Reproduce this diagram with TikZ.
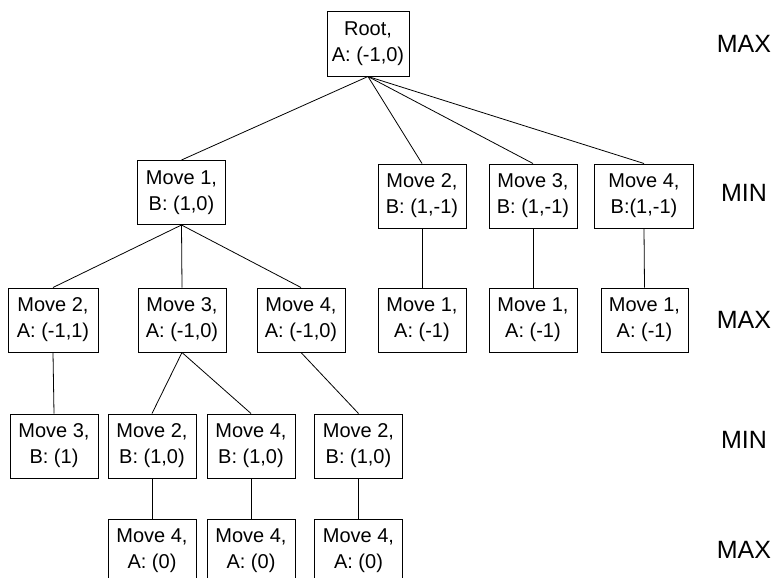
\documentclass[tikz,border=0pt]{standalone}
\usepackage{fontspec}
\setmainfont{Liberation Sans}

\begin{document}
\begin{tikzpicture}[x=1bp,y=-1bp,
	mv/.style={draw,line width=1pt,minimum width=88bp,minimum height=64bp,inner sep=0pt,align=center,font=\fontsize{20bp}{26bp}\selectfont},
	edge/.style={line width=0.8pt},
	lvl/.style={font=\fontsize{25bp}{30bp}\selectfont}]
			%%%%% START %%%%%
			
			\useasboundingbox (0,0) rectangle (776,578);
			\clip (0,0) rectangle (776,578);
			
			\node[mv,minimum width=82bp] (root) at (368,44) {Root,\\A: (-1,0)};
			
			\node[mv] (b1) at (181.5,192.5) {Move 1,\\B: (1,0)};
			\node[mv] (b2) at (422,196) {Move 2,\\B: (1,-1)};
			\node[mv] (b3) at (533,196) {Move 3,\\B: (1,-1)};
			\node[mv,minimum width=99bp] (b4) at (644,196) {Move 4,\\B:(1,-1)};
			
			\node[mv,minimum width=90bp] (a12) at (53,320) {Move 2,\\A: (-1,1)};
			\node[mv] (a13) at (182,320) {Move 3,\\A: (-1,0)};
			\node[mv] (a14) at (301,320) {Move 4,\\A: (-1,0)};
			\node[mv] (a21) at (422,320) {Move 1,\\A: (-1)};
			\node[mv] (a31) at (533,320) {Move 1,\\A: (-1)};
			\node[mv,minimum width=87bp] (a41) at (644.5,320) {Move 1,\\A: (-1)};
			
			\node[mv] (b123) at (54,446) {Move 3,\\B: (1)};
			\node[mv] (b132) at (152,446) {Move 2,\\B: (1,0)};
			\node[mv] (b134) at (251,446) {Move 4,\\B: (1,0)};
			\node[mv] (b142) at (358.5,446) {Move 2,\\B: (1,0)};
			
			\node[mv] (a1324) at (152,551) {Move 4,\\A: (0)};
			\node[mv] (a1344) at (251,551) {Move 4,\\A: (0)};
			\node[mv] (a1424) at (358.5,551) {Move 4,\\A: (0)};
			
			\foreach \p/\c in {root/b1,root/b2,root/b3,root/b4,
				b1/a12,b1/a13,b1/a14,b2/a21,b3/a31,b4/a41,
				a12/b123,a13/b132,a13/b134,a14/b142,
				b132/a1324,b134/a1344,b142/a1424}
				\draw[edge] (\p.south) -- (\c.north);
			
			\node[lvl] (l0) at (744,44) {MAX};
			\node[lvl] (l1) at (744,193) {MIN};
			\node[lvl] (l2) at (744,320) {MAX};
			\node[lvl] (l3) at (744,440) {MIN};
			\node[lvl] (l4) at (744,550) {MAX};
			
			%%%%% END %%%%%
\end{tikzpicture}
\end{document}
